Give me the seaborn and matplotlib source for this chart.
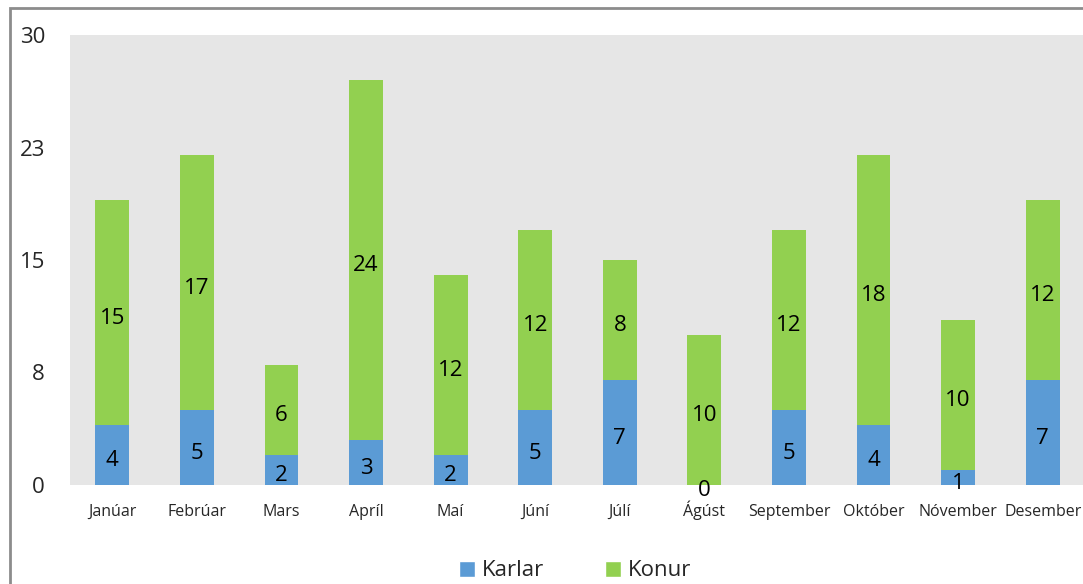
import matplotlib
matplotlib.use("Agg")
import matplotlib.pyplot as plt
from matplotlib.patches import Rectangle, Patch
from matplotlib.transforms import offset_copy
import seaborn as sns
import pandas as pd

months = ["Janúar", "Febrúar", "Mars", "Apríl", "Maí", "Júní", "Júlí", "Ágúst",
          "September", "Október", "Nóvember", "Desember"]
karlar = [4, 5, 2, 3, 2, 5, 7, 0, 5, 4, 1, 7]
konur = [15, 17, 6, 24, 12, 12, 8, 10, 12, 18, 10, 12]
ytick_values = [0, 7.5, 15, 22.5, 30]
ytick_labels = ["0", "8", "15", "23", "30"]

BLUE = "#5b9bd5"
GREEN = "#92d050"

sns.set_theme(style="white")
plt.rcParams["font.family"] = ["Open Sans", "DejaVu Sans"]

df = pd.DataFrame({"month": months, "Karlar": karlar, "Konur": konur})
df["total"] = df["Karlar"] + df["Konur"]

fig = plt.figure(figsize=(10.83, 5.84), dpi=100)
ax = fig.add_axes([70 / 1083, 1 - 485 / 584, 1015 / 1083, 450 / 584])
ax.set_facecolor("#e6e6e6")

sns.barplot(data=df, x="month", y="total", color=GREEN, saturation=1,
            width=0.4, ax=ax, linewidth=0)
sns.barplot(data=df, x="month", y="Karlar", color=BLUE, saturation=1,
            width=0.4, ax=ax, linewidth=0)

label_tr = offset_copy(ax.transData, fig=fig, x=0, y=-2.5, units="points")
for i, (k, f) in enumerate(zip(karlar, konur)):
    ax.text(i, k / 2, str(k), ha="center", va="center_baseline", fontsize=16,
            color="black", transform=label_tr)
    ax.text(i, k + f / 2, str(f), ha="center", va="center_baseline", fontsize=16,
            color="black", transform=label_tr)

ax.set_xlim(-0.5, len(months) - 0.5)
ax.set_ylim(0, 30)
ax.set_yticks(ytick_values)
ax.set_yticklabels(ytick_labels, fontsize=16)
ax.tick_params(axis="y", length=0, pad=18)
ax.tick_params(axis="x", length=0, pad=22, labelsize=11.5)
for lbl in ax.get_xticklabels():
    lbl.set_verticalalignment("baseline")
for lbl in ax.get_yticklabels():
    lbl.set_verticalalignment("center_baseline")
ax.set_xlabel("")
ax.set_ylabel("")
for s in ax.spines.values():
    s.set_visible(False)

fig.patches.append(Rectangle((10 / 1083, -0.05), 1.1, 1 - 8 / 584 + 0.05,
                             transform=fig.transFigure, fill=False,
                             edgecolor="#8c8c8c", linewidth=2))

handles = [Patch(facecolor=BLUE, label="Karlar"), Patch(facecolor=GREEN, label="Konur")]
fig.legend(handles=handles, loc="center", bbox_to_anchor=(575 / 1083, 1 - 571 / 584),
           ncol=2, frameon=False, fontsize=16, handlelength=0.72, handleheight=0.72,
           columnspacing=2.75, handletextpad=0.3)

fig.savefig("out.png", dpi=100)
